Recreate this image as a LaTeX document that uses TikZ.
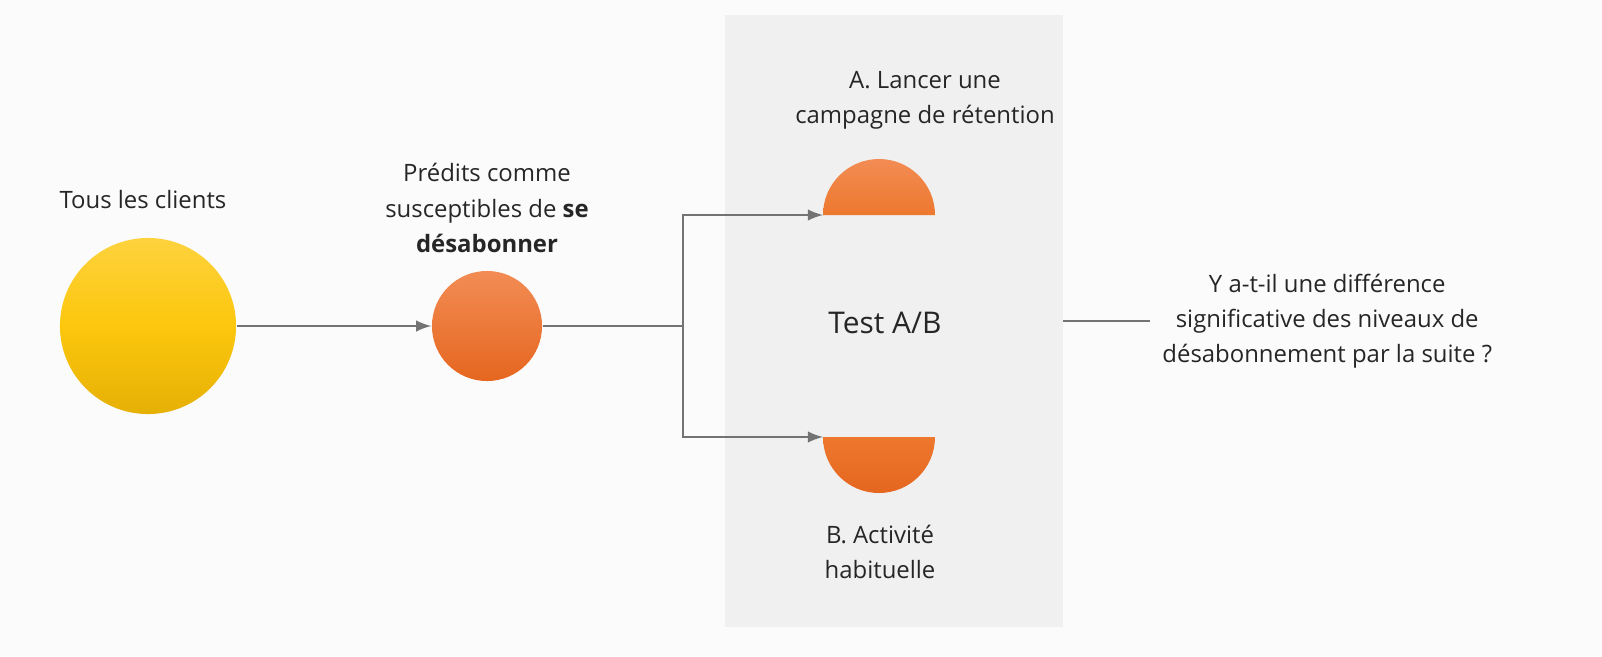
\documentclass[tikz,border=0pt]{standalone}
\usepackage{fontspec}
\setmainfont{Open Sans}
\usetikzlibrary{positioning}
\definecolor{panelgrey}{rgb}{0.94,0.94,0.94}
\definecolor{bggrey}{rgb}{0.985,0.985,0.985}
\definecolor{sunyellow}{rgb}{0.99,0.78,0.05}
\definecolor{sundark}{rgb}{0.90,0.69,0.02}
\definecolor{churnorange}{rgb}{0.93,0.47,0.18}
\definecolor{churnlight}{rgb}{0.95,0.55,0.33}
\definecolor{churndark}{rgb}{0.90,0.40,0.12}

\tikzset{
  lbl/.style={align=center, font=\fontsize{6.8}{10}\selectfont, text=black!85},
  link/.style={draw=black!55, line width=0.5pt},
  tip/.style={-latex}
}

\begin{document}
\begin{tikzpicture}[x=0.01cm,y=0.01cm]
        \useasboundingbox[fill=bggrey] (0,0) rectangle (1602,656);
        \fill[panelgrey] (725,29) rectangle (1063,641);                                    % test panel
        \node[circle, minimum size=1.76cm, inner sep=0, top color=sunyellow!80!white, bottom color=sundark, middle color=sunyellow] (all) at (148,330) {};  % all clients
        \node[circle, minimum size=1.1cm, inner sep=0, top color=churnlight, bottom color=churndark] (pred) at (487,330) {};  % predicted
        \shade[top color=churnlight, bottom color=churnorange] (823,441) arc (180:0:56) -- cycle;  % A
        \shade[top color=churnorange, bottom color=churndark] (823,219) arc (180:360:56) -- cycle;  % B
        \coordinate (tA) at (823,441);
        \coordinate (tB) at (823,219);
        \coordinate (fork) at (683,330);
        \coordinate (qin) at (1150,335);
        \node[lbl] (alltxt) at (143,456) {Tous les clients};
        \node[lbl] (predtxt) at (487,448) {Prédits comme\\susceptibles de \textbf{se}\\\textbf{désabonner}};
        \node[lbl] (atxt) at (925,556) {A. Lancer une\\campagne de rétention};
        \node[lbl] (btxt) at (880,104) {B. Activité\\habituelle};
        \node[lbl, font=\fontsize{8.5}{12}\selectfont] (ab) at (885,333) {Test A/B};
        \node[lbl, anchor=west] (quest) at (qin) {Y a-t-il une différence\\significative des niveaux de\\désabonnement par la suite ?};
        \draw[link, tip] (all) -- (pred);
        \draw[link] (pred) -- (fork);
        \draw[link, tip] (fork) |- (tA);
        \draw[link, tip] (fork) |- (tB);
        \draw[link] (1063,335) -- (quest.west);
    \end{tikzpicture}
\end{document}
